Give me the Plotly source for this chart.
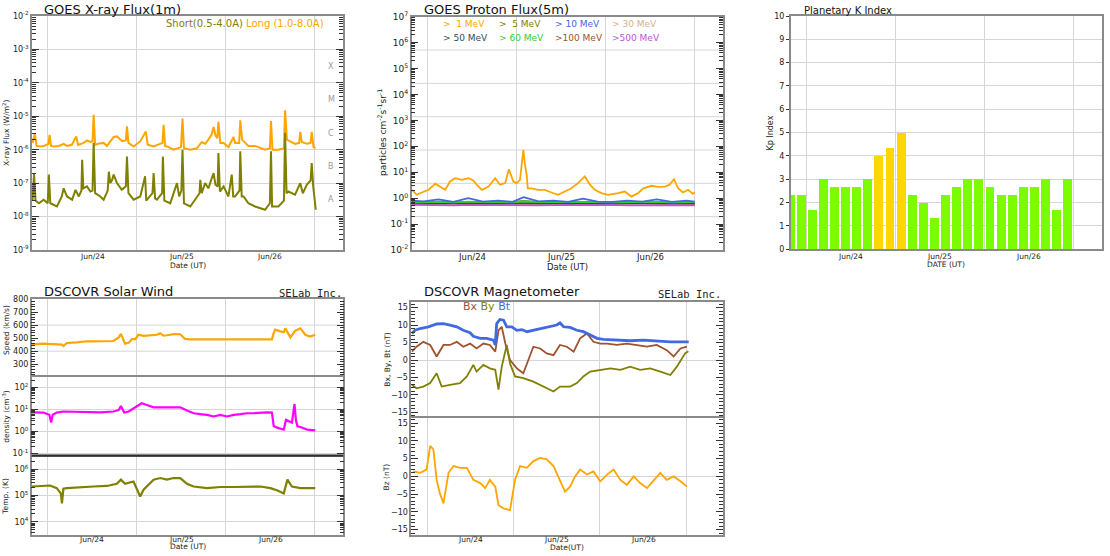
import pandas as pd
import plotly.graph_objects as go

# ---------------- data: (hours after 2024-06-23 00:00 UT, value) ----------------
xray_long = [(19.9, 1.6e-6), (20.5, 3.0e-6), (21.0, 1.3e-6), (22.0, 1.25e-6), (23.0, 1.3e-6),
             (24.2, 1.5e-6), (24.5, 2.8e-6), (24.9, 1.3e-6), (25.6, 1.25e-6), (27.0, 1.3e-6),
             (28.3, 1.5e-6), (29.2, 1.3e-6), (30.5, 1.4e-6), (31.7, 2.5e-6), (32.2, 1.4e-6),
             (33.7, 1.6e-6), (34.6, 1.9e-6), (35.5, 1.7e-6), (36.1, 1.8e-6), (36.4, 1.1e-5),
             (36.8, 1.4e-6), (37.5, 1.5e-6), (39.1, 1.6e-6), (40.0, 1.3e-6), (41.8, 2.4e-6),
             (42.7, 2.5e-6), (44.1, 1.8e-6), (45.1, 1.9e-6), (45.4, 5.0e-6), (45.8, 1.6e-6),
             (47.2, 1.25e-6), (49.0, 1.8e-6), (50.5, 3.5e-6), (51.0, 1.4e-6), (52.6, 1.25e-6),
             (55.0, 1.6e-6), (55.3, 5.6e-6), (55.7, 1.3e-6), (56.2, 1.25e-6), (58.0, 1.0e-6),
             (60.0, 1.2e-6), (60.4, 8.5e-6), (60.8, 1.1e-6), (62.5, 1.0e-6), (64.3, 1.1e-6),
             (65.6, 1.7e-6), (66.5, 1.5e-6), (67.4, 2.0e-6), (68.3, 2.9e-6), (68.8, 4.8e-6),
             (69.3, 2.7e-6), (69.8, 2.2e-6), (70.1, 6.8e-6), (70.6, 1.6e-6), (71.5, 1.6e-6),
             (72.8, 1.2e-6), (74.2, 2.4e-6), (74.6, 1.6e-6), (75.7, 1.6e-6), (76.0, 7.6e-6),
             (76.5, 2.0e-6), (76.9, 1.8e-6), (78.2, 1.3e-6), (80.0, 1.3e-6), (82.7, 1.0e-6),
             (84.0, 1.1e-6), (84.3, 7.2e-6), (84.7, 1.0e-6), (86.3, 1.0e-6), (87.8, 1.1e-6),
             (88.1, 1.5e-5), (88.6, 2.0e-6), (89.0, 1.9e-6), (90.8, 1.5e-6), (91.9, 1.6e-6),
             (92.2, 3.4e-6), (92.6, 1.7e-6), (94.0, 1.5e-6), (95.0, 1.6e-6), (95.3, 3.4e-6),
             (95.8, 1.2e-6), (96.3, 1.1e-6)]

xray_short = [(19.9, 3e-8), (20.3, 1.9e-7), (20.7, 3e-8), (21.6, 2.5e-8), (22.9, 3.2e-8),
              (24.0, 2.5e-8), (24.3, 1.8e-7), (24.7, 2.5e-8), (26.5, 2e-8), (27.8, 4e-8),
              (28.3, 7e-8), (29.2, 4e-8), (30.6, 3.2e-8), (31.5, 6.3e-8), (32.4, 4e-8),
              (33.1, 6e-8), (33.3, 5e-7), (33.6, 7e-8), (34.6, 8e-8), (35.5, 5.6e-8),
              (36.1, 6e-8), (36.4, 1.6e-6), (36.8, 5e-8), (38.2, 4e-8), (39.1, 3.2e-8),
              (40.2, 6e-8), (40.5, 2.2e-7), (40.9, 1e-7), (41.4, 1.26e-7), (41.8, 1.8e-7),
              (42.7, 1e-7), (43.6, 7e-8), (44.0, 6.3e-8), (45.1, 8e-8), (45.4, 6.3e-7),
              (45.8, 5e-8), (47.2, 3.2e-8), (49.0, 4e-8), (50.3, 1.6e-7), (50.6, 3e-8),
              (52.3, 5e-8), (52.6, 2e-7), (53.0, 3.5e-8), (53.5, 3.2e-8), (54.9, 5e-8),
              (55.1, 6.3e-7), (55.5, 3e-8), (57.1, 2.5e-8), (58.9, 1e-7), (59.5, 4e-8),
              (60.1, 6e-8), (60.4, 1e-6), (60.8, 2.5e-8), (62.5, 2e-8), (63.8, 3.2e-8),
              (65.0, 5e-8), (65.2, 1.26e-7), (65.6, 5e-8), (66.5, 1e-7), (67.4, 7e-8),
              (68.3, 1.4e-7), (68.8, 2e-7), (69.3, 9e-8), (69.9, 8e-8), (70.1, 8e-7),
              (70.5, 5.6e-8), (71.5, 8e-8), (72.8, 4e-8), (73.7, 1.8e-7), (74.1, 4e-8),
              (74.6, 4e-8), (75.8, 6e-8), (76.0, 9e-7), (76.4, 4e-8), (76.9, 4e-8),
              (78.2, 2.5e-8), (80.0, 2e-8), (82.7, 1.6e-8), (84.0, 2.5e-8), (84.3, 9e-7),
              (84.6, 2e-8), (86.3, 2e-8), (87.8, 3e-8), (88.1, 3.2e-6), (88.5, 5e-8),
              (89.0, 5.6e-8), (90.8, 4.5e-8), (92.2, 1e-7), (92.9, 5e-8), (94.0, 9e-8),
              (95.0, 1.2e-7), (95.3, 4e-7), (95.7, 8e-8), (96.4, 1.6e-8)]

proton_1mev = [(19.8, 2.1), (20.3, 1.8), (21.1, 1.35), (22.5, 1.65), (24.3, 2.1), (26.1, 3.6),
               (27.4, 2.8), (28.8, 2.1), (30.1, 4.4), (31.5, 5.9), (33.3, 5.1), (35.1, 5.9),
               (36.4, 4.8), (37.3, 3.3), (38.7, 2.1), (40.5, 2.8), (42.3, 5.9), (43.6, 3.3),
               (45.0, 3.8), (46.0, 13), (47.2, 4.4), (48.1, 3.8), (49.0, 5.1), (49.6, 30),
               (49.9, 73), (50.3, 22), (50.8, 8), (51.1, 2.4), (52.1, 2.4), (53.9, 2.1),
               (55.7, 2.1), (57.5, 1.65), (59.3, 1.35), (61.1, 1.8), (62.9, 2.4), (64.7, 3.8),
               (66.5, 6.9), (67.9, 3.3), (69.2, 2.1), (71.0, 1.56), (72.8, 1.35), (75.5, 1.56),
               (77.3, 1.8), (79.1, 1.15), (80.9, 1.56), (82.3, 2.4), (84.5, 3.0), (86.3, 2.7),
               (88.1, 2.8), (89.4, 3.3), (90.6, 5.4), (91.7, 2.4), (93.0, 1.65), (94.4, 2.1),
               (95.7, 1.47), (96.2, 1.65)]

proton_hours = [19.8, 23, 27, 31, 35, 39, 43, 47, 50, 54, 58, 62, 66, 70, 74, 78, 82, 86, 90, 94, 96.2]
proton_5mev = [0.72, 0.7, 0.74, 0.7, 0.72, 0.7, 0.74, 0.71, 0.78, 0.7, 0.72, 0.7, 0.71, 0.72, 0.7, 0.7, 0.71, 0.72, 0.7, 0.7, 0.7]
proton_10mev = [0.8, 0.75, 0.9, 0.72, 1.0, 0.74, 0.8, 0.72, 1.1, 0.75, 0.8, 0.72, 0.95, 0.74, 0.72, 0.8, 0.74, 0.9, 0.72, 0.8, 0.74]
proton_30mev = [0.66, 0.65, 0.66, 0.65, 0.66, 0.65, 0.66, 0.65, 0.67, 0.65, 0.66, 0.65, 0.66, 0.65, 0.66, 0.65, 0.66, 0.65, 0.66, 0.65, 0.66]
proton_50mev = [0.63, 0.64, 0.62, 0.64, 0.65, 0.63, 0.64, 0.62, 0.66, 0.63, 0.64, 0.63, 0.62, 0.64, 0.63, 0.64, 0.62, 0.64, 0.63, 0.64, 0.63]
proton_60mev = [0.68, 0.7, 0.72, 0.69, 0.74, 0.7, 0.72, 0.69, 0.76, 0.7, 0.71, 0.69, 0.72, 0.7, 0.69, 0.71, 0.7, 0.72, 0.69, 0.7, 0.7]
proton_100mev = [0.6, 0.61, 0.6, 0.61, 0.6, 0.61, 0.6, 0.61, 0.62, 0.6, 0.61, 0.6, 0.61, 0.6, 0.61, 0.6, 0.61, 0.6, 0.61, 0.6, 0.6]
proton_500mev = [0.55, 0.54, 0.55, 0.53, 0.55, 0.54, 0.56, 0.54, 0.55, 0.53, 0.54, 0.55, 0.53, 0.54, 0.55, 0.53, 0.54, 0.53, 0.55, 0.54, 0.53]

kp_hours = [18, 21, 24, 27, 30, 33, 36, 39, 42, 45, 48, 51, 54, 57, 60, 63, 66, 69, 72, 75, 78, 81, 84, 87, 90, 93]
kp_values = [2.33, 2.33, 1.67, 3, 2.67, 2.67, 2.67, 3, 4, 4.33, 5, 2.33, 2, 1.33, 2.33, 2.67,
             3, 3, 2.67, 2.33, 2.33, 2.67, 2.67, 3, 1.67, 3]

sw_speed = [(19.8, 455), (20.2, 452), (22.9, 458), (25.6, 455), (27.9, 450), (28.3, 440), (29.2, 463),
            (31.9, 468), (34.6, 476), (36.4, 475), (38.2, 476), (40.0, 481), (41.8, 478), (43.2, 506),
            (43.8, 532), (44.3, 500), (44.9, 458), (45.9, 465), (46.8, 493), (47.7, 493), (48.5, 526),
            (49.9, 518), (51.7, 520), (53.5, 526), (54.4, 538), (55.3, 520), (56.2, 522), (58.0, 531),
            (59.8, 530), (61.1, 494), (62.5, 491), (65.2, 491), (68.8, 491), (72.4, 491), (76.0, 494),
            (79.6, 491), (83.2, 496), (84.5, 491), (85.0, 540), (85.4, 565), (86.8, 552), (87.7, 545),
            (88.1, 575), (88.7, 543), (89.5, 506), (90.8, 557), (91.7, 570), (92.2, 575), (93.5, 526),
            (94.8, 512), (96.2, 526)]

sw_density = [(19.8, 7.3), (22.9, 7.1), (24.5, 5.6), (25.0, 2.5), (25.4, 5.6), (26.5, 7.1), (28.3, 7.9),
              (33.7, 7.3), (38.2, 7.3), (41.8, 7.9), (43.2, 9.3), (43.8, 14), (44.7, 7.1), (45.9, 7.9),
              (47.2, 11), (49.4, 18.6), (50.8, 15.6), (52.6, 12.3), (54.4, 12.3), (56.2, 12.3),
              (58.0, 11.9), (59.8, 12.3), (61.6, 8.7), (63.4, 6.6), (65.2, 6.0), (67.0, 5.6), (68.8, 4.7),
              (70.6, 5.6), (72.4, 4.7), (74.2, 5.6), (76.0, 6.0), (77.8, 6.6), (79.6, 6.6), (81.4, 7.1),
              (83.2, 7.3), (84.5, 7.1), (85.0, 1.7), (86.3, 1.4), (87.7, 1.19), (88.3, 3.3), (89.9, 2.5),
              (90.6, 17.3), (91.0, 3.0), (91.4, 1.67), (92.2, 1.56), (94.0, 1.19), (96.2, 1.1)]

sw_temp = [(19.8, 2.2e5), (22.9, 2.3e5), (24.7, 2.4e5), (26.5, 1.9e5), (27.6, 1.2e5), (27.9, 0.5e5),
           (28.3, 1.8e5), (29.2, 1.9e5), (32.8, 2.1e5), (36.4, 2.2e5), (40.0, 2.3e5), (42.7, 2.8e5),
           (43.8, 4.0e5), (44.9, 2.8e5), (47.2, 3.4e5), (48.0, 1.8e5), (49.0, 0.92e5), (49.9, 1.65e5),
           (51.2, 2.6e5), (52.6, 4.0e5), (54.4, 4.6e5), (56.2, 4.0e5), (58.0, 4.6e5), (59.8, 4.6e5),
           (61.6, 2.8e5), (63.4, 2.2e5), (67.0, 1.9e5), (70.6, 2.1e5), (74.2, 2.1e5), (77.8, 2.1e5),
           (81.4, 2.2e5), (84.1, 1.9e5), (86.0, 1.55e5), (87.7, 1.2e5), (88.7, 4.0e5), (89.9, 2.2e5),
           (92.2, 1.9e5), (96.2, 1.9e5)]

mag_bt = [(19.7, 7.6), (20.6, 8.5), (22.0, 9.0), (24.3, 9.5), (26.6, 10.3), (28.5, 10.4), (30.3, 10.0),
          (32.2, 9.5), (34.0, 8.5), (35.9, 7.8), (36.8, 6.8), (38.7, 6.2), (40.5, 6.2), (42.4, 5.7),
          (42.9, 4.3), (43.3, 10.4), (44.2, 11.6), (45.2, 11.4), (46.1, 9.5), (47.5, 9.5), (48.9, 8.5),
          (50.3, 8.7), (51.7, 8.1), (53.5, 8.5), (55.4, 9.0), (57.2, 9.5), (60.0, 10.0), (60.9, 10.6),
          (61.9, 9.5), (63.7, 9.3), (65.6, 8.5), (67.4, 8.1), (69.3, 7.1), (71.2, 6.2), (73.0, 5.9),
          (76.7, 5.7), (80.4, 5.5), (84.1, 5.7), (87.8, 5.4), (91.6, 5.2), (95.3, 5.2), (96.7, 5.2)]

mag_bx = [(19.7, 2.4), (21.0, 3.8), (22.9, 5.2), (24.8, 4.3), (26.6, 1.0), (28.5, 4.3), (30.3, 4.3),
          (32.2, 5.2), (34.0, 3.8), (35.9, 4.7), (37.7, 3.3), (39.6, 4.7), (41.4, 4.3), (42.9, 2.4),
          (43.8, 8.5), (44.7, 9.5), (45.7, 4.7), (47.0, 0.0), (48.9, -2.4), (50.7, -3.8), (52.1, 0.0),
          (53.5, 3.8), (55.4, 3.3), (57.2, 1.9), (59.1, 1.4), (60.9, 4.3), (62.8, 3.8), (64.7, 2.4),
          (66.5, 6.2), (68.4, 7.6), (70.2, 5.2), (72.1, 4.7), (74.0, 4.7), (76.7, 4.3), (79.5, 4.7),
          (82.3, 4.3), (85.1, 3.8), (87.8, 4.3), (90.6, 2.8), (92.5, 1.0), (94.4, 3.3), (96.2, 3.8)]

mag_by = [(19.7, -7.1), (21.0, -8.1), (22.9, -7.6), (24.8, -6.6), (26.6, -3.8), (28.0, -7.6), (30.3, -7.1),
          (33.1, -6.6), (35.0, -4.7), (36.8, -1.4), (37.7, -3.3), (39.6, -1.4), (41.4, -2.4), (42.9, -2.8),
          (43.8, -8.5), (44.7, -1.9), (46.1, 4.3), (47.0, -1.0), (48.4, -4.7), (50.7, -5.2), (53.5, -6.2),
          (56.3, -7.6), (59.1, -9.0), (60.9, -7.6), (63.7, -7.6), (65.6, -6.6), (67.4, -4.7), (69.3, -3.3),
          (72.1, -2.8), (74.9, -2.4), (77.7, -2.8), (80.4, -1.9), (83.2, -2.8), (86.0, -2.4), (88.8, -3.3),
          (91.6, -4.3), (93.4, -1.9), (95.7, 1.9), (96.6, 2.5)]

mag_bz = [(20.1, 1.4), (22.0, 1.0), (23.8, 1.9), (24.8, 8.6), (25.7, 7.6), (26.6, -1.0), (27.5, -4.8),
          (28.5, -7.6), (29.9, 1.0), (31.3, 2.9), (33.1, 2.4), (35.0, 2.4), (36.8, -1.0), (38.7, -1.9),
          (40.1, -3.3), (41.4, -1.0), (42.9, -2.9), (43.8, -8.1), (45.2, -9.0), (47.0, -9.5), (48.4, -1.0),
          (49.8, 2.9), (51.7, 2.4), (53.5, 4.3), (55.4, 5.2), (57.2, 4.8), (59.1, 2.9), (60.9, -1.0),
          (62.3, -4.3), (63.7, -2.9), (65.1, 0.0), (66.5, 1.9), (68.4, 0.5), (70.2, 1.4), (72.1, -1.4),
          (74.0, 0.5), (75.8, 1.9), (77.7, -1.0), (79.5, -2.4), (81.4, 0.0), (83.2, -1.9), (85.1, -3.3),
          (87.0, -1.0), (88.8, 1.0), (90.6, -1.0), (92.5, 0.0), (94.4, -1.4), (96.2, -2.9)]

day_label_hours = [36, 60, 84]
day_labels = ["Jun/24", "Jun/25", "Jun/26"]
midnight_hours = [24, 48, 72, 96]

# ---------------- helpers ----------------
BASE = pd.Timestamp("2024-06-23 00:00")


def to_time(hours):
    return [BASE + pd.Timedelta(hours=float(h)) for h in hours]


def split(pairs):
    t, v = zip(*pairs)
    return to_time(t), list(v)


W, H = 1110, 556
FONT = "DejaVu Sans"
FRAME = "#8a8a8a"
GRID = "#d6d6d6"
TICK = "#333333"


def xd(l, r):
    return [l / W, r / W]


def yd(top, bottom):
    return [1 - bottom / H, 1 - top / H]


STD_RANGE = to_time([19.75, 103.75])
MAG_RANGE = to_time([19.55, 106.15])


def xaxis(dom, anchor, rng, side="bottom", mirror=True):
    return dict(domain=dom, anchor=anchor, type="date", range=rng, side=side, automargin=False,
                showline=True, mirror=mirror, linecolor=FRAME, linewidth=1.5,
                ticks="", showgrid=False, zeroline=False, showticklabels=False,
                minor=dict(tickmode="array", tickvals=to_time(midnight_hours), showgrid=True,
                           gridcolor=GRID, gridwidth=1, ticks=""))


def ylog(dom, anchor, lo, hi, emin, emax, size=8, grid=True):
    exps = list(range(emin, emax + 1))
    minor_vals = [m * 10.0 ** e for e in range(int(lo) - 1, int(hi) + 1) for m in range(2, 10)]
    return dict(domain=dom, anchor=anchor, type="log", range=[lo, hi], automargin=False,
                tickmode="array", tickvals=[10.0 ** e for e in exps],
                ticktext=[f"10<sup>{e}</sup>" for e in exps],
                ticks="inside", ticklen=7, tickwidth=1, tickcolor=TICK, mirror="allticks",
                showline=True, linecolor=FRAME, linewidth=1.5,
                showgrid=grid, gridcolor=GRID, gridwidth=1, zeroline=False,
                tickfont=dict(family=FONT, size=size, color="#222"),
                minor=dict(tickmode="array", tickvals=minor_vals, ticks="inside", ticklen=4,
                           tickcolor=TICK, showgrid=False))


def ylin(dom, anchor, lo, hi, vals, minor_dtick, grid=False, zeroline=False, ticks="inside",
         mirror="allticks", size=8):
    return dict(domain=dom, anchor=anchor, range=[lo, hi], automargin=False,
                tickmode="array", tickvals=vals,
                ticks=ticks, ticklen=7 if ticks == "inside" else 3, tickwidth=1, tickcolor=TICK,
                mirror=mirror, showline=True, linecolor=FRAME, linewidth=1.5,
                showgrid=grid, gridcolor=GRID, zeroline=zeroline, zerolinecolor=GRID, zerolinewidth=1,
                tickfont=dict(family=FONT, size=size, color="#222"),
                minor=dict(dtick=minor_dtick, ticks="inside" if ticks == "inside" else "",
                           ticklen=4, tickcolor=TICK, showgrid=False))


ORANGE = "#FFA500"
OLIVE = "#808000"
BLUE = "#4169E1"
SIENNA = "#A0522D"
MAGENTA = "#FF00FF"

fig = go.Figure()


def line(pairs_or_t, v=None, xa="x", ya="y", color="black", width=1.5):
    if v is None:
        t, vals = split(pairs_or_t)
    else:
        t, vals = to_time(pairs_or_t), v
    fig.add_trace(go.Scatter(x=t, y=vals, mode="lines", xaxis=xa, yaxis=ya,
                             line=dict(color=color, width=width), hoverinfo="skip"))


# X-ray
line(xray_long, xa="x", ya="y", color=ORANGE, width=2)
line(xray_short, xa="x", ya="y", color=OLIVE, width=2)

# Protons
line(proton_1mev, xa="x2", ya="y2", color=ORANGE, width=1.8)
for vals, col in [(proton_30mev, "#D2B48C"), (proton_100mev, SIENNA), (proton_50mev, "#2F4F4F"),
                  (proton_5mev, OLIVE), (proton_60mev, "#32CD32"), (proton_10mev, BLUE),
                  (proton_500mev, "#BA55D3")]:
    line(proton_hours, vals, xa="x2", ya="y2", color=col, width=1.8)

# Kp
kp_centers = to_time([h + 1.5 for h in kp_hours])
fig.add_trace(go.Bar(x=kp_centers, y=kp_values, xaxis="x3", yaxis="y3",
                     width=2.4 * 3600 * 1000,
                     marker=dict(color=["#FFD700" if k >= 4 else "#7CFC00" for k in kp_values],
                                 line=dict(width=0)), hoverinfo="skip"))

# Solar wind
line(sw_speed, xa="x4", ya="y4", color=ORANGE, width=2.2)
line(sw_density, xa="x5", ya="y5", color=MAGENTA, width=2.2)
line(sw_temp, xa="x6", ya="y6", color=OLIVE, width=2.2)

# Magnetometer
line(mag_bx, xa="x7", ya="y7", color=SIENNA, width=1.8)
line(mag_by, xa="x7", ya="y7", color=OLIVE, width=1.8)
line(mag_bt, xa="x7", ya="y7", color=BLUE, width=2.8)
line(mag_bz, xa="x8", ya="y8", color=ORANGE, width=1.8)

layout = dict(
    width=W, height=H, autosize=False,
    margin=dict(l=0, r=0, t=0, b=0, pad=0, autoexpand=False),
    paper_bgcolor="white", plot_bgcolor="white", showlegend=False,
    font=dict(family=FONT, size=8, color="#222"),
    bargap=0,
    xaxis=xaxis(xd(32, 343), "y", STD_RANGE),
    yaxis=ylog(yd(16, 250), "x", -9, -2, -9, -2),
    xaxis2=xaxis(xd(411.7, 722.7), "y2", STD_RANGE),
    yaxis2=ylog(yd(16.7, 250), "x2", -2, 7, -2, 7, size=9, grid=False),
    xaxis3=xaxis(xd(790.7, 1101.7), "y3", STD_RANGE),
    yaxis3=ylin(yd(16, 249.3), "x3", 0, 10, list(range(0, 11)), 1, grid=True,
                ticks="outside", mirror=True),
    xaxis4=xaxis(xd(31.7, 343.3), "y4", STD_RANGE, side="top", mirror=False),
    yaxis4=ylin(yd(299, 377.3), "x4", 200, 800, [300, 400, 500, 600, 700, 800], 20),
    xaxis5=xaxis(xd(31.7, 343.3), "y5", STD_RANGE, side="top", mirror=False),
    yaxis5=ylog(yd(377.3, 456), "x5", -1.12, 2.45, -1, 2),
    xaxis6=xaxis(xd(31.7, 343.3), "y6", STD_RANGE),
    yaxis6=ylog(yd(456, 535), "x6", 3.5, 6.5, 4, 6),
    xaxis7=xaxis(xd(411.3, 722.7), "y7", MAG_RANGE, side="top", mirror=False),
    yaxis7=ylin(yd(302.3, 417.7), "x7", -16.5, 16.5, [-15, -10, -5, 0, 5, 10, 15], 1, zeroline=True),
    xaxis8=xaxis(xd(411.3, 722.7), "y8", MAG_RANGE),
    yaxis8=ylin(yd(417.7, 535), "x8", -16.5, 16.5, [-15, -10, -5, 0, 5, 10, 15], 1, zeroline=True),
)
fig.update_layout(**layout)

# extra grid lines (proton 7 equal divisions, speed every 200) and the dark separator
shapes = []
for k in range(1, 7):
    shapes.append(dict(type="line", xref="x2 domain", yref="y2 domain", x0=0, x1=1, y0=k / 7, y1=k / 7,
                       line=dict(color=GRID, width=1), layer="below"))
for v in [400, 600]:
    shapes.append(dict(type="line", xref="x4 domain", yref="y4", x0=0, x1=1, y0=v, y1=v,
                       line=dict(color=GRID, width=1), layer="below"))
shapes.append(dict(type="line", xref="x6 domain", yref="y6 domain", x0=0, x1=1, y0=1, y1=1,
                   line=dict(color="#111111", width=1.5), layer="above"))
fig.update_layout(shapes=shapes)

ann = []


def text(x, y, s, size=8, color="#222", xanchor="left", angle=0, family=FONT):
    ann.append(dict(x=x / W, y=1 - y / H, xref="paper", yref="paper", text=s,
                    showarrow=False, xanchor=xanchor, yanchor="middle", textangle=angle,
                    borderpad=0, font=dict(family=family, size=size, color=color)))


# day labels under each bottom axis (placed at noon of each day)
for xa, ylab, size in [("x", 256.7, 7.5), ("x2", 257.3, 8.5), ("x3", 256.7, 7.5),
                       ("x6", 539.5, 7.5), ("x8", 539.5, 7.5)]:
    for t, lab in zip(to_time(day_label_hours), day_labels):
        ann.append(dict(x=t, y=1 - ylab / H, xref=xa, yref="paper", text=lab, showarrow=False,
                        xanchor="center", yanchor="middle", borderpad=0,
                        font=dict(family=FONT, size=size, color="#222")))

# titles
text(43.3, 9, "GOES X-ray Flux(1m)", size=13, color="#111")
text(423.3, 9, "GOES Proton Flux(5m)", size=13, color="#111")
text(802.7, 10, "Planetary K Index", size=10, color="#111")
text(43.3, 291.5, "DSCOVR Solar Wind", size=13, color="#111")
text(423.3, 291.5, "DSCOVR Magnetometer", size=13, color="#111")
text(342.5, 293.3, "SELab Inc.", size=10.5, xanchor="right", family="DejaVu Sans Mono", color="#222")
text(722, 294, "SELab Inc.", size=10.5, xanchor="right", family="DejaVu Sans Mono", color="#222")

# legends
text(325, 24, f"<span style='color:{OLIVE}'>Short(0.5-4.0A)</span> "
              f"<span style='color:{ORANGE}'>Long (1.0-8.0A)</span>", size=10, xanchor="right")
prot_leg = [(">\u00a0\u00a01 MeV", ORANGE), (">\u00a0\u00a05 MeV", OLIVE), (">\u00a010 MeV", BLUE),
            (">\u00a030 MeV", "#D2B48C"), (">\u00a050 MeV", "#2F4F4F"), (">\u00a060 MeV", "#32CD32"),
            (">100 MeV", SIENNA), (">500 MeV", "#BA55D3")]
cols = [441.7, 498.3, 554.0, 610.7]
for i, (s, c) in enumerate(prot_leg):
    text(cols[i % 4], 24 if i < 4 else 37.7, s, size=9, color=c)
text(461.7, 306.7, f"<span style='color:{SIENNA}'>Bx</span> <span style='color:{OLIVE}'>By</span> "
                   f"<span style='color:{BLUE}'>Bt</span>", size=11)

# flare classes
for cls, lv in zip(["X", "M", "C", "B", "A"], [-3.5, -4.5, -5.5, -6.5, -7.5]):
    ann.append(dict(x=331 / W, y=lv, xref="paper", yref="y", text=cls, showarrow=False,
                    xanchor="center", yanchor="middle", font=dict(family=FONT, size=8, color="#999")))

# axis titles
text(6, 133, "X-ray Flux (W/m<sup>2</sup>)", size=7.5, xanchor="center", angle=-90)
text(382, 133, "particles cm<sup>-2</sup>s<sup>-1</sup>sr<sup>-1</sup>", size=9, xanchor="center", angle=-90)
text(769.5, 133, "Kp Index", size=8, xanchor="center", angle=-90)
text(6, 330, "Speed (km/s)", size=7.5, xanchor="center", angle=-90)
text(6, 416.7, "density (cm<sup>-3</sup>)", size=7.5, xanchor="center", angle=-90)
text(6, 496.7, "Temp. (K)", size=7.5, xanchor="center", angle=-90)
text(386.7, 360, "Bx, By, Bt (nT)", size=7.5, xanchor="center", angle=-90)
text(386.7, 476.7, "Bz (nT)", size=7.5, xanchor="center", angle=-90)
text(187.5, 265.3, "Date (UT)", size=7.5, xanchor="center")
text(567.2, 266.7, "Date (UT)", size=8.5, xanchor="center")
text(946.2, 264.5, "DATE (UT)", size=7.5, xanchor="center")
text(187.5, 546.5, "Date (UT)", size=7.5, xanchor="center")
text(567, 547, "Date(UT)", size=7.5, xanchor="center")

fig.update_layout(annotations=ann)
fig.write_html("out.html")
